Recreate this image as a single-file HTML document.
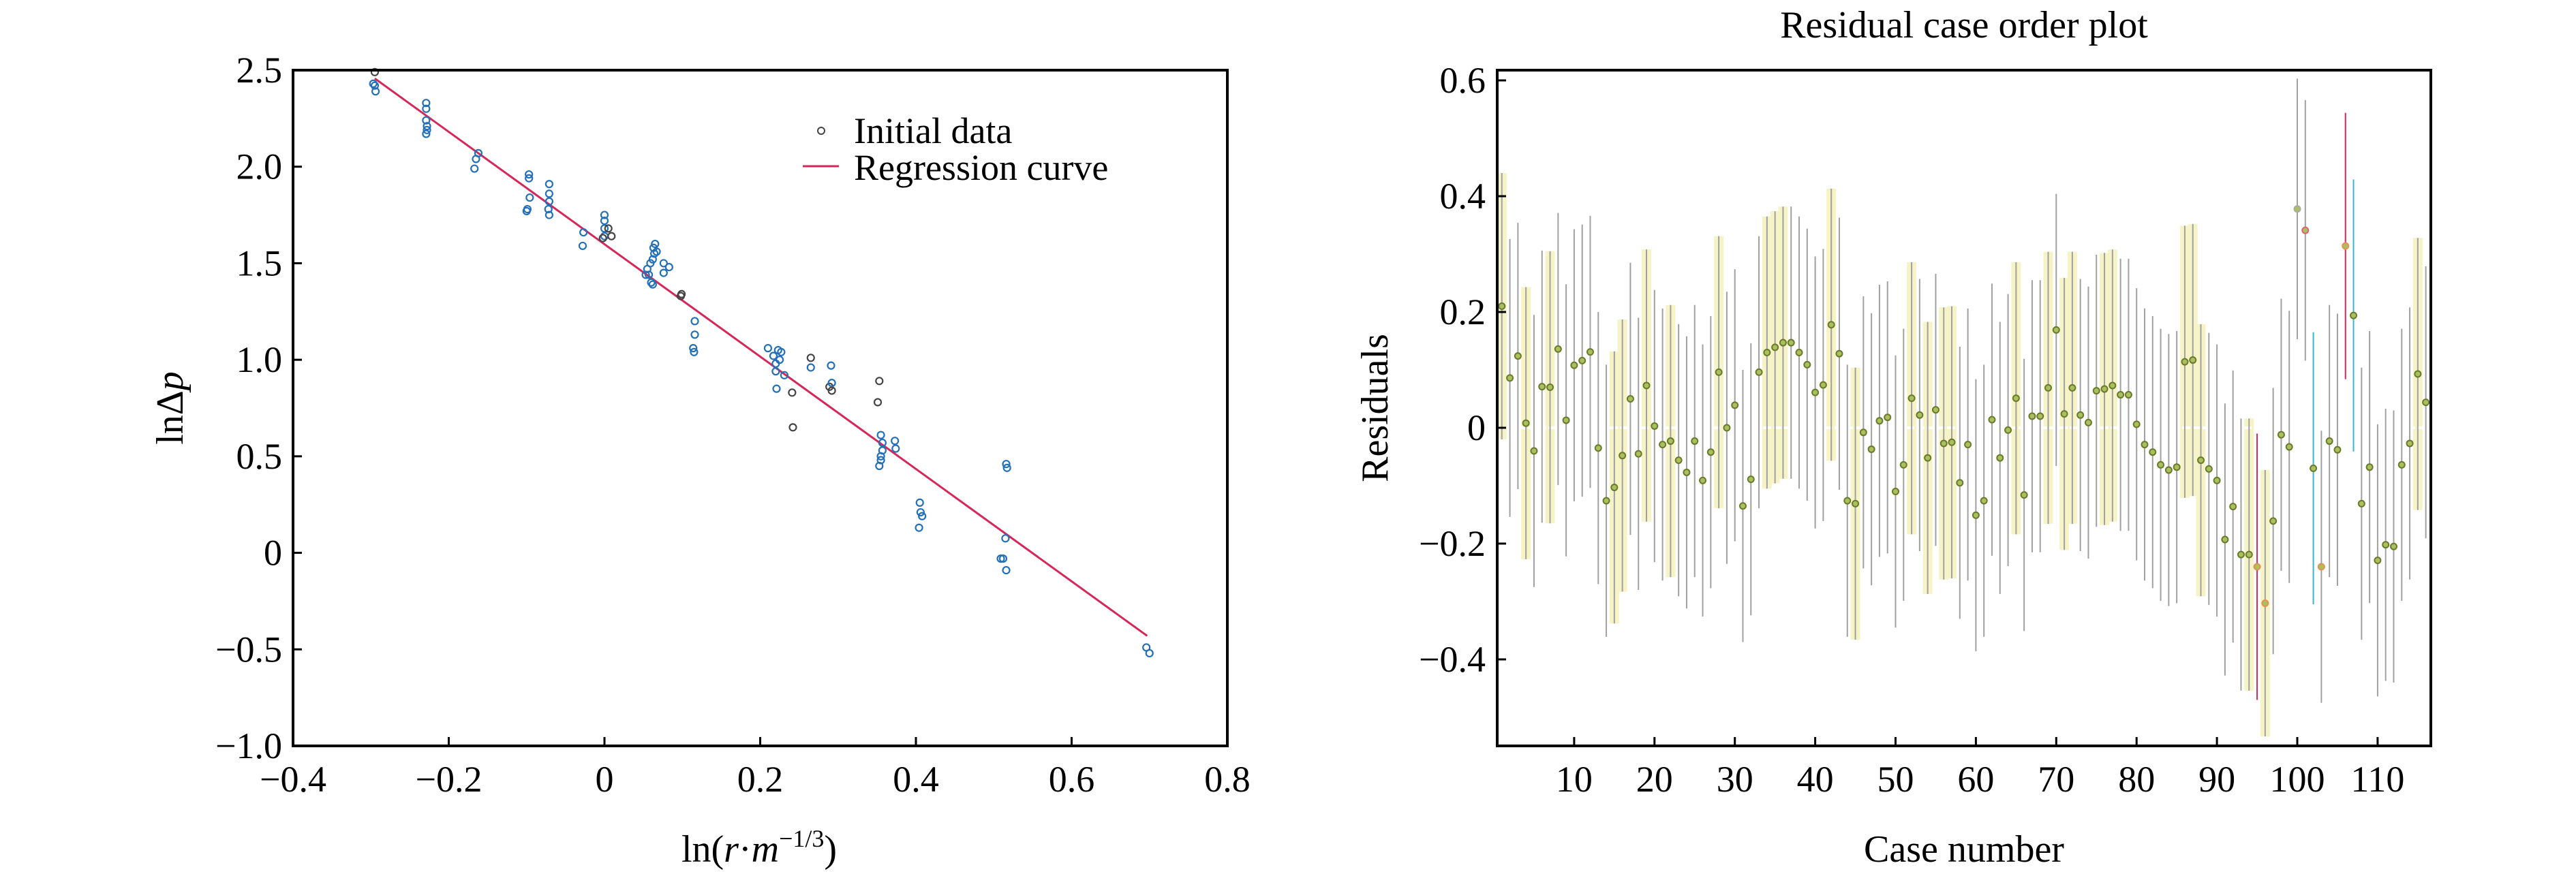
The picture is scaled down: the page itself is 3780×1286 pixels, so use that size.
<!DOCTYPE html>
<html><head><meta charset="utf-8"><style>
html,body{margin:0;padding:0;background:#fff;}
svg{display:block;}
svg text{font-family:"Liberation Serif","DejaVu Serif",serif;}
</style></head><body>
<svg id="fig" width="3780" height="1286" viewBox="0 0 3780 1286" xmlns="http://www.w3.org/2000/svg">
<g id="left"></g>
<g id="right"></g>
</svg>
<script>
// ---- Left chart data ----
const scatterX = [-0.295,-0.295,-0.294,-0.297,-0.229,-0.229,-0.229,-0.228,-0.229,-0.228,-0.167,-0.165,-0.162,-0.097,-0.097,-0.096,-0.100,-0.099,-0.071,-0.071,-0.071,-0.072,-0.071,-0.027,-0.028,0.0,0.0,0.0,0.0,0.005,0.009,-0.002,0.055,0.057,0.060,0.062,0.064,0.063,0.065,0.067,0.062,0.076,0.083,0.076,0.059,0.053,0.099,0.098,0.116,0.116,0.114,0.115,0.210,0.217,0.220,0.223,0.227,0.220,0.221,0.231,0.225,0.241,0.242,0.265,0.265,0.291,0.289,0.292,0.292,0.353,0.351,0.355,0.357,0.353,0.355,0.357,0.355,0.373,0.374,0.405,0.406,0.404,0.408,0.515,0.509,0.512,0.516,0.516,0.517,0.696,0.700];
const scatterY = [2.49,2.42,2.39,2.43,2.33,2.30,2.24,2.21,2.17,2.19,1.99,2.04,2.07,1.96,1.94,1.84,1.77,1.78,1.91,1.86,1.82,1.78,1.75,1.66,1.59,1.75,1.72,1.68,1.64,1.68,1.64,1.63,1.47,1.44,1.40,1.39,1.55,1.58,1.60,1.56,1.52,1.50,1.48,1.45,1.50,1.44,1.34,1.33,1.20,1.13,1.06,1.04,1.06,1.02,0.98,1.05,1.04,0.94,0.85,0.92,1.00,0.83,0.65,1.01,0.96,0.97,0.86,0.84,0.88,0.89,0.78,0.61,0.57,0.45,0.48,0.53,0.50,0.58,0.54,0.26,0.21,0.13,0.19,0.075,-0.03,-0.03,-0.09,0.46,0.44,-0.49,-0.52];
const greyPts = [0,29,30,31,46,47,61,62,63,66,67,69,70];
const regX = [-0.295,0.697];
const regY = [2.457,-0.43];
const leftXTicks = [-0.4,-0.2,0,0.2,0.4,0.6,0.8];
const leftXTickLabels = ["\u22120.4","\u22120.2","0","0.2","0.4","0.6","0.8"];
const leftYTicks = [2.5,2.0,1.5,1.0,0.5,0,-0.5,-1.0];
const leftYTickLabels = ["2.5","2.0","1.5","1.0","0.5","0","\u22120.5","\u22121.0"];

// ---- Right chart data ----
const residuals = [0.21,0.086,0.124,0.008,-0.04,0.071,0.07,0.136,0.013,0.108,0.116,0.131,-0.035,-0.126,-0.103,-0.048,0.05,-0.045,0.073,0.003,-0.029,-0.023,-0.056,-0.077,-0.023,-0.091,-0.042,0.096,0,0.039,-0.135,-0.089,0.096,0.13,0.139,0.147,0.147,0.13,0.109,0.061,0.074,0.178,0.128,-0.126,-0.131,-0.008,-0.037,0.012,0.018,-0.11,-0.064,0.051,0.022,-0.052,0.031,-0.027,-0.025,-0.095,-0.029,-0.151,-0.126,0.014,-0.052,-0.004,0.051,-0.116,0.02,0.02,0.069,0.169,0.024,0.069,0.022,0.009,0.064,0.067,0.073,0.057,0.057,0.006,-0.029,-0.042,-0.064,-0.073,-0.068,0.114,0.117,-0.056,-0.071,-0.091,-0.193,-0.136,-0.219,-0.219,-0.24,-0.303,-0.161,-0.012,-0.033,0.378,0.341,-0.07,-0.24,-0.023,-0.038,0.314,0.194,-0.131,-0.068,-0.229,-0.202,-0.205,-0.064,-0.027,0.093,0.044];
const halfWidth = [0.23,0.24,0.23,0.235,0.235,0.235,0.235,0.235,0.235,0.235,0.235,0.235,0.235,0.235,0.235,0.235,0.235,0.235,0.235,0.235,0.235,0.235,0.235,0.235,0.235,0.235,0.235,0.235,0.235,0.235,0.235,0.235,0.235,0.235,0.235,0.235,0.235,0.235,0.235,0.235,0.235,0.235,0.235,0.235,0.235,0.235,0.235,0.235,0.235,0.235,0.235,0.235,0.235,0.235,0.235,0.235,0.235,0.235,0.235,0.235,0.235,0.235,0.235,0.235,0.235,0.235,0.235,0.235,0.235,0.235,0.235,0.235,0.235,0.235,0.235,0.235,0.235,0.235,0.235,0.235,0.235,0.235,0.235,0.235,0.235,0.235,0.235,0.235,0.235,0.235,0.235,0.235,0.235,0.235,0.23,0.23,0.23,0.235,0.235,0.225,0.225,0.235,0.235,0.235,0.235,0.23,0.235,0.235,0.235,0.235,0.235,0.235,0.235,0.235,0.235,0.235];
const yellowCases = [1,4,7,15,16,19,22,28,34,35,36,42,45,52,54,56,57,65,69,71,72,76,77,86,87,88,94,96,115];
const redCases = [95,106];
const cyanCases = [102,107];
const rightXTicks = [10,20,30,40,50,60,70,80,90,100,110];
const rightYTicks = [0.6,0.4,0.2,0,-0.2,-0.4];
const rightYTickLabels = ["0.6","0.4","0.2","0","\u22120.2","\u22120.4"];

const NS="http://www.w3.org/2000/svg";
function mk(parent,tag,attrs,text){const e=document.createElementNS(NS,tag);for(const k in attrs)e.setAttribute(k,attrs[k]);if(text!==undefined)e.textContent=text;parent.appendChild(e);return e;}

// ---- Left panel ----
const L=document.getElementById('left');
const lx=v=>430+(v+0.4)/1.2*1371;
const ly=v=>103+(2.5-v)/3.5*992;
leftXTicks.forEach((t,i)=>{
  const tk=mk(L,'line',{x1:lx(t),x2:lx(t),y1:1095,y2:1082,stroke:'#000','stroke-width':3});
  
  
  const tl=mk(L,'text',{x:lx(t),y:1162,'font-size':54,'text-anchor':'middle'},leftXTickLabels[i]);
  
  
});
leftYTicks.forEach((t,i)=>{
  const tk=mk(L,'line',{x1:430,x2:443,y1:ly(t),y2:ly(t),stroke:'#000','stroke-width':3});
  
  
  const tl=mk(L,'text',{x:414,y:ly(t)+18,'font-size':54,'text-anchor':'end'},leftYTickLabels[i]);
  
  
});
const rl=mk(L,'line',{x1:lx(regX[0]),y1:ly(regY[0]),x2:lx(regX[1]),y2:ly(regY[1]),stroke:'#d6275a','stroke-width':3});


scatterX.forEach((x,i)=>{
  const c=mk(L,'circle',{cx:lx(x),cy:ly(scatterY[i]),r:5,fill:'none',stroke:greyPts.includes(i)?'#444':'#2470b8','stroke-width':2.2});
  
  
});
const lb=mk(L,'rect',{x:430,y:103,width:1371,height:992,fill:'none',stroke:'#000','stroke-width':4});


const lg=mk(L,'g',{});


mk(lg,'circle',{cx:1205,cy:192,r:5,fill:'none',stroke:'#444','stroke-width':2});
mk(lg,'text',{x:1253,y:210,'font-size':54},'Initial data');
mk(lg,'line',{x1:1178,x2:1231,y1:244,y2:244,stroke:'#d6275a','stroke-width':3});
mk(lg,'text',{x:1253,y:264,'font-size':54},'Regression curve');
const xl=mk(L,'text',{x:1114,y:1265,'font-size':56,'text-anchor':'middle'});


xl.innerHTML='ln(<tspan font-style="italic">r</tspan>·<tspan font-style="italic">m</tspan><tspan dy="-22" font-size="36">−1/3</tspan><tspan dy="22">)</tspan>';
const yl=mk(L,'text',{x:0,y:0,'font-size':56,'text-anchor':'middle',transform:'translate(268,599) rotate(-90)'});


yl.innerHTML='lnΔ<tspan font-style="italic">p</tspan>';

// ---- Right panel ----
const R=document.getElementById('right');
const rx=v=>2192+v*11.79;
const ry=v=>628-v*850;
residuals.forEach((v,i)=>{
  const c=i+1;
  if(yellowCases.includes(c)){
    const b=mk(R,'rect',{x:rx(c)-7,y:ry(v+halfWidth[i]),width:14,height:ry(v-halfWidth[i])-ry(v+halfWidth[i]),fill:'#f6f4c6'});
    
    
  }
});
const zl=mk(R,'line',{x1:2197,x2:3567,y1:ry(0),y2:ry(0),stroke:'#fff','stroke-width':4,'stroke-dasharray':'12 3'});


residuals.forEach((v,i)=>{
  const c=i+1;
  let col='#a0a0a0';
  if(redCases.includes(c))col='#d6275a';
  if(cyanCases.includes(c))col='#38b8d0';
  const e=mk(R,'line',{x1:rx(c),x2:rx(c),y1:ry(v+halfWidth[i]),y2:ry(v-halfWidth[i]),stroke:col,'stroke-width':2});
  
  
});
residuals.forEach((v,i)=>{
  const c=i+1;
  let col='#6b7a2a';
  if(c===100)col='#aaa';
  if(c===101)col='#e06070';
  if(c===95||c===96||c===103||c===106)col='#e89050';
  const p=mk(R,'circle',{cx:rx(c),cy:ry(v),r:4.5,fill:'#a8c060',stroke:col,'stroke-width':2});
  
  
});
rightXTicks.forEach(t=>{
  const tk=mk(R,'line',{x1:rx(t),x2:rx(t),y1:1095,y2:1082,stroke:'#000','stroke-width':3});
  
  
  const tl=mk(R,'text',{x:rx(t),y:1162,'font-size':54,'text-anchor':'middle'},String(t));
  
  
});
rightYTicks.forEach((t,i)=>{
  const tk=mk(R,'line',{x1:2197,x2:2210,y1:ry(t),y2:ry(t),stroke:'#000','stroke-width':3});
  
  
  const tl=mk(R,'text',{x:2180,y:ry(t)+18,'font-size':54,'text-anchor':'end'},rightYTickLabels[i]);
  
  
});
const rb=mk(R,'rect',{x:2197,y:103,width:1370,height:992,fill:'none',stroke:'#000','stroke-width':4});


const tt=mk(R,'text',{x:2882,y:55,'font-size':56,'text-anchor':'middle'},'Residual case order plot');


const rxl=mk(R,'text',{x:2882,y:1265,'font-size':56,'text-anchor':'middle'},'Case number');


const ryl=mk(R,'text',{x:0,y:0,'font-size':56,'text-anchor':'middle',transform:'translate(2036,599) rotate(-90)'},'Residuals');


</script>
</body></html>
